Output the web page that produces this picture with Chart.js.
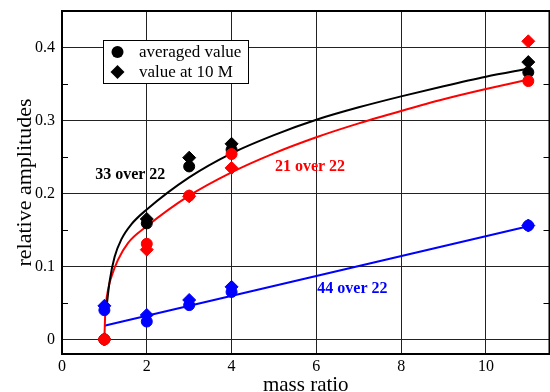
<!DOCTYPE html>
<html>
<head>
<meta charset="utf-8">
<script src="https://cdn.jsdelivr.net/npm/chart.js@4.4.1/dist/chart.umd.min.js"></script>
<style>
  html, body { margin: 0; padding: 0; background: #fff; overflow: hidden; }
  /* canvas is a few px wider than the window: the plot frame runs off the right edge */
  #wrap { width: 550px; height: 392px; position: relative; overflow: hidden; }
</style>
</head>
<body>
<div id="wrap"><canvas id="chart" width="557" height="392"></canvas></div>
<script>
// measured points (mass ratio on x)
const massRatio = [1, 2, 3, 4, 11];
const avg33 = [0, 0.159, 0.237, 0.26, 0.366];
const at10M33 = [0, 0.165, 0.249, 0.268, 0.380];
const avg21 = [0, 0.131, 0.197, 0.254, 0.354];
const at10M21 = [0, 0.123, 0.196, 0.235, 0.4085];
const avg44 = [0.040, 0.0245, 0.047, 0.065, 0.156];
const at10M44 = [0.046, 0.0335, 0.054, 0.072, 0.156];

// fitted curves
const fitX33 = [1.04, 1.07, 1.13, 1.24, 1.4, 1.64, 2, 3, 4, 5, 6, 7, 8, 9, 10, 11];
const fit33 = [0.035, 0.054, 0.082, 0.113, 0.137, 0.158, 0.178, 0.222, 0.255, 0.280, 0.301, 0.318, 0.333, 0.347, 0.360, 0.371];
const fitX21 = [1, 1.02, 1.087, 1.167, 1.32, 1.556, 2, 3, 4, 5, 6, 7, 8, 9, 10, 11];
const fit21 = [0, 0.035, 0.068, 0.086, 0.109, 0.132, 0.155, 0.197, 0.229, 0.255, 0.277, 0.296, 0.313, 0.329, 0.343, 0.356];
const fitX44 = [1, 11];
const fit44 = [0.0187, 0.155];

const xTicks = [0, 2, 4, 6, 8, 10];
const yTicks = [0, 0.1, 0.2, 0.3, 0.4];
const yMinor = [0.05, 0.15, 0.25, 0.35];

const SERIF = '"Liberation Serif", "Times New Roman", serif';
Chart.defaults.font.family = SERIF;
Chart.defaults.color = '#000';

const pts = (xs, ys) => xs.map((x, i) => ({ x, y: ys[i] }));

function markers(label, ys, color, style, radius, order) {
  return {
    label, data: pts(massRatio, ys), showLine: false,
    pointStyle: style, pointRadius: radius, pointHoverRadius: radius,
    backgroundColor: color, borderColor: color, borderWidth: 1, order,
  };
}

function fitLine(label, xs, ys, color) {
  return {
    label, data: pts(xs, ys), showLine: true, fill: false,
    borderColor: color, borderWidth: 2, pointRadius: 0,
    cubicInterpolationMode: 'monotone', order: 20,
  };
}

const curveLabels = [
  { text: '33 over 22', x: 1.61, y: 0.226, color: '#000' },
  { text: '21 over 22', x: 5.85, y: 0.2366, color: '#ff0000' },
  { text: '44 over 22', x: 6.85, y: 0.0688, color: '#0000ff' },
];

// inward minor ticks + closed frame, like the grace plot
const framePlugin = {
  id: 'frame',
  afterDatasetsDraw(chart) {
    const { ctx, chartArea: a, scales: { y } } = chart;
    ctx.save();
    ctx.strokeStyle = '#000';
    ctx.lineWidth = 1;
    yMinor.forEach((v) => {
      const py = Math.round(y.getPixelForValue(v)) + 0.5;
      ctx.beginPath();
      ctx.moveTo(a.left, py); ctx.lineTo(a.left + 6, py);
      ctx.moveTo(a.right, py); ctx.lineTo(a.right - 6, py);
      ctx.stroke();
    });
    ctx.lineWidth = 2;
    ctx.strokeRect(a.left, a.top, a.right - a.left, a.bottom - a.top);
    ctx.restore();
  },
};

const labelPlugin = {
  id: 'curveLabels',
  afterDatasetsDraw(chart) {
    const { ctx, scales: { x, y } } = chart;
    ctx.save();
    ctx.font = 'bold 16px ' + SERIF;
    ctx.textAlign = 'center';
    ctx.textBaseline = 'middle';
    curveLabels.forEach((l) => {
      ctx.fillStyle = l.color;
      ctx.fillText(l.text, x.getPixelForValue(l.x), y.getPixelForValue(l.y));
    });
    ctx.restore();
  },
};

// legend box sits inside the plot area
const legendPlugin = {
  id: 'boxLegend',
  afterDatasetsDraw(chart) {
    const { ctx } = chart;
    const items = [chart.data.datasets[0], chart.data.datasets[1]];
    const box = { left: 103, top: 40, width: 145, height: 43 };
    ctx.save();
    ctx.fillStyle = '#fff';
    ctx.fillRect(box.left, box.top, box.width, box.height);
    ctx.strokeStyle = '#000';
    ctx.lineWidth = 1;
    ctx.strokeRect(box.left + 0.5, box.top + 0.5, box.width, box.height);
    ctx.font = '17px ' + SERIF;
    ctx.textBaseline = 'middle';
    items.forEach((ds, i) => {
      const cy = box.top + 12 + i * 20;
      const cx = box.left + 14.5;
      ctx.fillStyle = '#000';
      ctx.beginPath();
      if (ds.pointStyle === 'circle') {
        ctx.arc(cx, cy, 6, 0, Math.PI * 2);
      } else {
        ctx.moveTo(cx, cy - 7); ctx.lineTo(cx + 7, cy);
        ctx.lineTo(cx, cy + 7); ctx.lineTo(cx - 7, cy);
        ctx.closePath();
      }
      ctx.fill();
      ctx.fillText(ds.label, box.left + 36, cy + 1);
    });
    ctx.restore();
  },
};

new Chart(document.getElementById('chart'), {
  type: 'scatter',
  data: {
    datasets: [
      markers('averaged value', avg33, '#000', 'circle', 5.5, 7),
      markers('value at 10 M', at10M33, '#000', 'rectRot', 6.5, 6),
      markers('21 over 22 averaged', avg21, '#ff0000', 'circle', 5.5, 5),
      markers('21 over 22 at 10 M', at10M21, '#ff0000', 'rectRot', 6.5, 4),
      markers('44 over 22 averaged', avg44, '#0000ff', 'circle', 5.5, 3),
      markers('44 over 22 at 10 M', at10M44, '#0000ff', 'rectRot', 6.5, 2),
      fitLine('33 over 22', fitX33, fit33, '#000'),
      fitLine('21 over 22', fitX21, fit21, '#ff0000'),
      fitLine('44 over 22', fitX44, fit44, '#0000ff'),
    ],
  },
  options: {
    responsive: false,
    animation: false,
    layout: { padding: { top: 11, right: 0, left: 0, bottom: 0 } },
    plugins: { legend: { display: false }, tooltip: { enabled: false } },
    scales: {
      x: {
        type: 'linear', min: 0, max: 11.5,
        afterBuildTicks: (s) => { s.ticks = xTicks.map((v) => ({ value: v })); },
        afterFit: (s) => { s.height = 38; },
        ticks: { color: '#000', font: { size: 16 }, padding: 3 },
        grid: { color: '#222', lineWidth: 1, drawTicks: false },
        border: { display: false },
        title: { display: true, text: 'mass ratio', color: '#000', font: { size: 21, lineHeight: 1 }, padding: { top: 0, bottom: -4 } },
      },
      y: {
        type: 'linear', min: -0.02, max: 0.45,
        afterBuildTicks: (s) => { s.ticks = yTicks.map((v) => ({ value: v })); },
        afterFit: (s) => { s.width = 62; s.paddingTop = 0; s.paddingBottom = 0; },
        ticks: { color: '#000', font: { size: 16 }, padding: 7 },
        grid: { color: '#222', lineWidth: 1, drawTicks: false },
        border: { display: false },
        title: { display: true, text: 'relative amplitudes', color: '#000', font: { size: 22, lineHeight: 1 }, padding: { top: 14, bottom: 0 } },
      },
    },
  },
  plugins: [framePlugin, labelPlugin, legendPlugin],
});
</script>
</body>
</html>
